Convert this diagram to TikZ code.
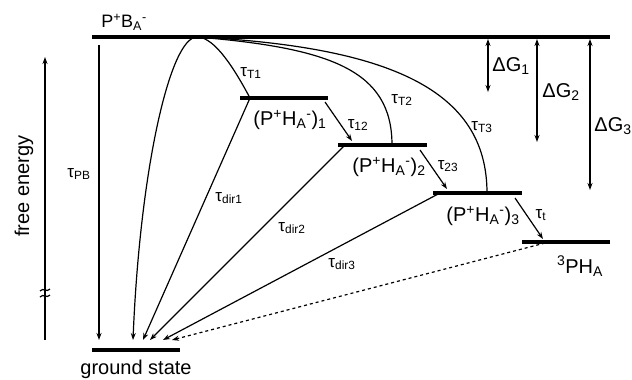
\documentclass[tikz,border=0pt]{standalone}
\usepackage{fontspec}
\setmainfont{Liberation Sans}
\usetikzlibrary{arrows.meta}
\begin{document}
\begin{tikzpicture}[x=1pt,y=-1pt,
  level/.style={line width=3.8pt},
  conn/.style={line width=1.2pt},
  arr/.style={conn,-{Stealth[length=7pt,width=5pt]}},
  darr/.style={conn,{Stealth[length=7pt,width=5pt]}-{Stealth[length=7pt,width=5pt]}},
  lbl/.style={font=\fontsize{20}{22}\selectfont, inner sep=0pt},
  tlbl/.style={font=\fontsize{17}{20}\selectfont, inner sep=0pt},
  dg/.style={font=\fontsize{20}{22}\selectfont, inner sep=0pt}]
\useasboundingbox (0,0) rectangle (632,380);
% levels
\coordinate (B0) at (92,37);  \coordinate (B1) at (610,37);
\coordinate (H1a) at (240,98); \coordinate (H1b) at (328,98);
\coordinate (H2a) at (338,145); \coordinate (H2b) at (427,145);
\coordinate (H3a) at (433,193); \coordinate (H3b) at (522,193);
\coordinate (Ta) at (522,242); \coordinate (Tb) at (610,242);
\coordinate (Ga) at (92,350); \coordinate (Gb) at (180,350);
\draw[level] (B0) -- (B1);
\draw[level] (H1a) -- (H1b);
\draw[level] (H2a) -- (H2b);
\draw[level] (H3a) -- (H3b);
\draw[level] (Ta) -- (Tb);
\draw[level] (Ga) -- (Gb);
% level labels
\node[lbl,font=\fontsize{18}{20}\selectfont] (lB) at (124,22) {P\textsuperscript{+}B\textsubscript{A}\textsuperscript{-}};
\node[lbl] (l1) at (290,120) {(P\textsuperscript{+}H\textsubscript{A}\textsuperscript{-})\textsubscript{1}};
\node[lbl] (l2) at (389,167) {(P\textsuperscript{+}H\textsubscript{A}\textsuperscript{-})\textsubscript{2}};
\node[lbl] (l3) at (483,216) {(P\textsuperscript{+}H\textsubscript{A}\textsuperscript{-})\textsubscript{3}};
\node[lbl] (lT) at (580,266) {\textsuperscript{3}PH\textsubscript{A}};
\node[lbl] (lG) at (136,369) {ground state};
% free energy axis
\coordinate (F0) at (45,340); \coordinate (F1) at (45,57);
\draw[arr] (F0) -- (F1);
\draw[conn] (40,291) .. controls (43,287) and (47,293) .. (50,289);
\draw[conn] (40,297) .. controls (43,293) and (47,299) .. (50,295);
\node[lbl,rotate=90,font=\fontsize{20}{22}\selectfont] (fe) at (24,186) {free energy};
% anchor points on ground
\coordinate (P) at (197,37);
\coordinate (g0) at (99,340); \coordinate (g1) at (133,340);
\coordinate (g2) at (143,340); \coordinate (g3) at (150,340);
\coordinate (g4) at (163,340); \coordinate (g5) at (172,340);
% tau_PB
\coordinate (pbs) at (99,45);
\draw[arr] (pbs) -- (g0);
\node[tlbl] (tPB) at (79,174) {τ\textsubscript{PB}};
% hump curve
\coordinate (h1l) at (250,98);
\draw[conn] (h1l) .. controls (235,70) and (215,37) .. (P);
\draw[arr] (P) .. controls (170,37) and (140,170) .. (g1);
\node[tlbl] (tT1) at (251,73) {τ\textsubscript{T1}};
% tau_T2, tau_T3
\coordinate (h2m) at (392,145);
\coordinate (h3m) at (487,193);
\draw[conn] (P) .. controls (330,48) and (392,70) .. (h2m);
\draw[conn] (P) .. controls (390,47) and (487,90) .. (h3m);
\node[tlbl] (tT2) at (402,100) {τ\textsubscript{T2}};
\node[tlbl] (tT3) at (482,127) {τ\textsubscript{T3}};
% direct recombination
\coordinate (d2) at (345,145); \coordinate (d3) at (440,193);
\draw[arr] (h1l) -- (g2);
\draw[arr] (d2) -- (g3);
\draw[arr] (d3) -- (g4);
\node[tlbl] (td1) at (229,198) {τ\textsubscript{dir1}};
\node[tlbl] (td2) at (292,228) {τ\textsubscript{dir2}};
\node[tlbl] (td3) at (342,264) {τ\textsubscript{dir3}};
% triplet dashed
\coordinate (tr) at (545,243);
\draw[arr,dashed] (tr) -- (g5);
% forward transfers
\coordinate (a12s) at (325,102); \coordinate (a12e) at (352,141);
\coordinate (a23s) at (420,150); \coordinate (a23e) at (447,189);
\coordinate (ats) at (515,198); \coordinate (ate) at (543,239);
\draw[arr] (a12s) -- (a12e);
\draw[arr] (a23s) -- (a23e);
\draw[arr] (ats) -- (ate);
\node[tlbl] (t12) at (358,125) {τ\textsubscript{12}};
\node[tlbl] (t23) at (448,166) {τ\textsubscript{23}};
\node[tlbl] (tt) at (541,215) {τ\textsubscript{t}};
% Delta G
\coordinate (G1a) at (488,39); \coordinate (G1b) at (488,92);
\coordinate (G2a) at (537,39); \coordinate (G2b) at (537,142);
\coordinate (G3a) at (590,39); \coordinate (G3b) at (590,190);
\draw[darr] (G1a) -- (G1b);
\draw[darr] (G2a) -- (G2b);
\draw[darr] (G3a) -- (G3b);
\node[dg] (dG1) at (511,66) {ΔG\textsubscript{1}};
\node[dg] (dG2) at (561,92) {ΔG\textsubscript{2}};
\node[dg] (dG3) at (613,126) {ΔG\textsubscript{3}};
\end{tikzpicture}
\end{document}
